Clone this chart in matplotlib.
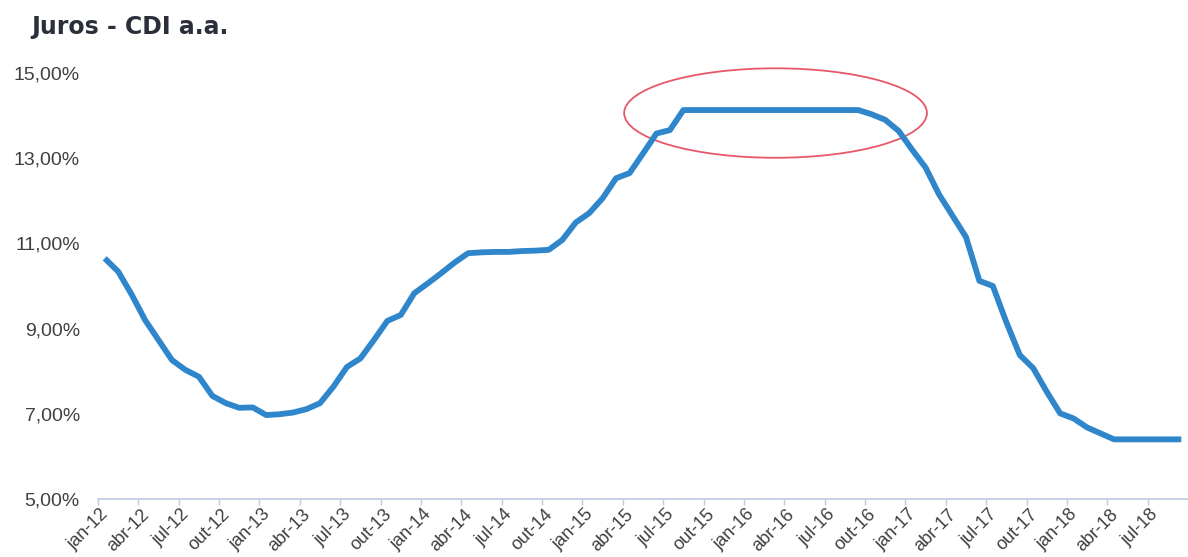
import matplotlib
matplotlib.use("Agg")
import matplotlib.pyplot as plt
from matplotlib.patches import Ellipse

plt.rcParams['font.family'] = ['Liberation Sans', 'DejaVu Sans']

meses = ['jan', 'fev', 'mar', 'abr', 'mai', 'jun', 'jul', 'ago', 'set', 'out', 'nov', 'dez']
anos = ['12', '13', '14', '15', '16', '17', '18']

# CDI anualizado, mensal, jan-12 a set-18
cdi = [
    10.65, 10.34, 9.80, 9.20, 8.73, 8.26, 8.03, 7.87, 7.42, 7.25, 7.14, 7.15,      # 2012
    6.97, 6.99, 7.03, 7.11, 7.25, 7.64, 8.10, 8.30, 8.73, 9.18, 9.32, 9.83,        # 2013
    10.06, 10.30, 10.55, 10.77, 10.79, 10.80, 10.80, 10.82, 10.83, 10.85, 11.08, 11.49,  # 2014
    11.71, 12.06, 12.53, 12.65, 13.11, 13.58, 13.66, 14.13, 14.13, 14.13, 14.13, 14.13,  # 2015
    14.13, 14.13, 14.13, 14.13, 14.13, 14.13, 14.13, 14.13, 14.13, 14.03, 13.90, 13.64,  # 2016
    13.20, 12.78, 12.15, 11.65, 11.15, 10.12, 10.00, 9.15, 8.38, 8.07, 7.52, 7.01,  # 2017
    6.89, 6.68, 6.54, 6.40, 6.40, 6.40, 6.40, 6.40, 6.40,                           # 2018
]

rotulos = [m + '-' + a for a in anos for m in meses][:len(cdi)]
x = list(range(len(cdi)))

fig = plt.figure(figsize=(11.88, 5.57), dpi=100)
ax = fig.add_axes([98 / 1188, 58 / 557, 1 - 98 / 1188, 426 / 557])

ax.plot(x, cdi, color='#2f86cb', lw=4.2, solid_joinstyle='round', solid_capstyle='butt')

# destaque no patamar de 14,13%
pico = max(cdi)
idx = [i for i, v in enumerate(cdi) if v == pico]
ax.add_patch(Ellipse(((idx[0] + idx[-1]) / 2 + 0.35, pico - 0.07),
                     width=len(idx) + 8.5, height=2.1,
                     fill=False, edgecolor='#e8566a', lw=1.3, clip_on=False))

ax.set_xlim(-0.5, len(cdi) - 0.5)
ax.set_ylim(5, 15)

ax.set_yticks([5, 7, 9, 11, 13, 15])
ax.set_yticklabels([f'{v:.2f}%'.replace('.', ',') for v in [5, 7, 9, 11, 13, 15]])
ax.tick_params(axis='y', length=0, pad=13, labelsize=14, labelcolor='#404040')

# rótulos trimestrais nas categorias, marcas entre categorias
ax.set_xticks([i - 0.35 for i in x[::3]])
ax.set_xticklabels(rotulos[::3])
ax.set_xticks([i - 0.5 for i in x[::3]], minor=True)
ax.tick_params(axis='x', which='major', length=0, pad=5, labelsize=13, labelcolor='#404040')
ax.tick_params(axis='x', which='minor', length=4, width=1, color='#bccbe0')
plt.setp(ax.get_xticklabels(), rotation=45, ha='right', rotation_mode='anchor')

for s in ['left', 'top', 'right']:
    ax.spines[s].set_visible(False)
ax.spines['bottom'].set_color('#bccbe0')
ax.spines['bottom'].set_linewidth(1.2)

fig.text(31 / 1188, 1 - 27 / 557, 'Juros - CDI a.a.', fontsize=17, fontweight='bold',
         color='#2a2f3a', family=['DejaVu Sans'], va='center', ha='left')

fig.savefig('out.png', dpi=100)
